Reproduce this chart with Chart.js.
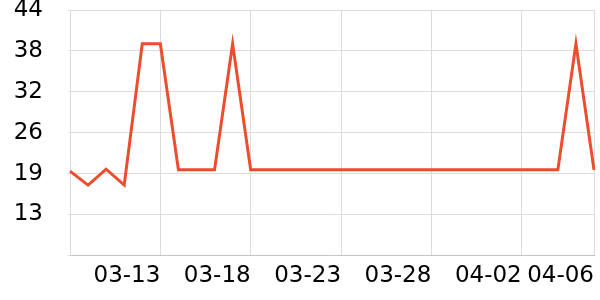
<!DOCTYPE html>
<html>
<head>
<meta charset="utf-8">
<script src="https://cdn.jsdelivr.net/npm/chart.js@4/dist/chart.umd.min.js"></script>
<style>
  html, body { margin: 0; padding: 0; background: #fff; }
  #wrap { width: 600px; height: 300px; position: relative; }
</style>
</head>
<body>
<div id="wrap"><canvas id="chart"></canvas></div>
<script>
// daily categories, 03-08 .. 04-06
const dates = [
  "03-08", "03-09", "03-10", "03-11", "03-12", "03-13", "03-14", "03-15", "03-16", "03-17",
  "03-18", "03-19", "03-20", "03-21", "03-22", "03-23", "03-24", "03-25", "03-26", "03-27",
  "03-28", "03-29", "03-30", "03-31", "04-01", "04-02", "04-03", "04-04", "04-05", "04-06"
];
const values = [
  19.7, 17.6, 20.0, 17.6, 38.9, 38.9, 19.9, 19.9, 19.9, 38.9,
  19.9, 19.9, 19.9, 19.9, 19.9, 19.9, 19.9, 19.9, 19.9, 19.9,
  19.9, 19.9, 19.9, 19.9, 19.9, 19.9, 19.9, 19.9, 38.9, 19.9
];
// which category labels get a tick + gridline
const shownTicks = ["03-13", "03-18", "03-23", "03-28", "04-02", "04-06"];
const yMin = 7;
const yMax = 44;
const ySteps = 6;

const font = { family: "'DejaVu Sans', sans-serif", size: 23 };

new Chart(document.getElementById("chart"), {
  type: "line",
  data: {
    labels: dates,
    datasets: [{
      data: values,
      borderColor: "#ef4b2d",
      backgroundColor: "#ef4b2d",
      borderWidth: 3,
      tension: 0,
      pointRadius: 0,
      fill: false
    }]
  },
  options: {
    responsive: true,
    maintainAspectRatio: false,
    animation: false,
    layout: { padding: { left: 0, right: 6, top: 0, bottom: 3 } },
    plugins: { legend: { display: false }, tooltip: { enabled: false } },
    scales: {
      x: {
        afterBuildTicks: (scale) => {
          scale.ticks = scale.ticks.filter((t) => shownTicks.includes(dates[t.value]));
        },
        afterFit: (scale) => {
          scale.paddingRight = 0;
        },
        ticks: {
          autoSkip: false,
          maxRotation: 0,
          align: "end",
          padding: 7,
          color: "#000",
          font,
          callback: function (v) { return this.getLabelForValue(v); }
        },
        grid: { color: "#dcdcdc", drawTicks: false },
        border: { color: "#c4c4c4" }
      },
      y: {
        min: yMin,
        max: yMax,
        afterFit: (scale) => {
          scale.width = 70;
          scale.paddingTop = 10;
          scale.paddingBottom = 0;
        },
        ticks: {
          stepSize: (yMax - yMin) / ySteps,
          padding: 25,
          color: "#000",
          font,
          callback: (v) => (Math.abs(v - yMin) < 1e-6 ? "" : Math.round(v))
        },
        grid: { color: "#dcdcdc", tickLength: 2 },
        border: { color: "#dcdcdc" }
      }
    }
  }
});
</script>
</body>
</html>
